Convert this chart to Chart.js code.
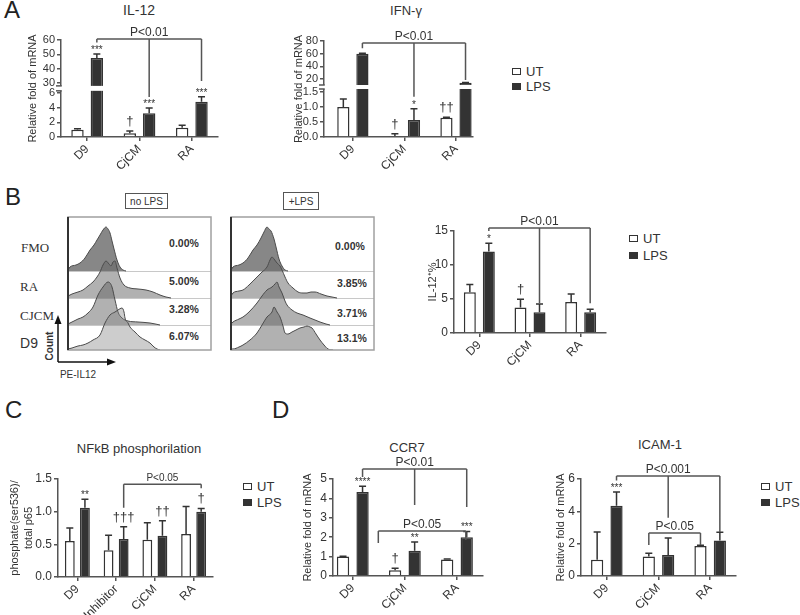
<!DOCTYPE html>
<html>
<head>
<meta charset="utf-8">
<script src="https://cdn.jsdelivr.net/npm/chart.js@4.4.1/dist/chart.umd.min.js"></script>
<style>
body { margin: 0; background: #fff; }
#fig { position: relative; width: 800px; height: 615px; overflow: hidden; font-family: "Liberation Sans", Arial, sans-serif; color: #333; }
#fig canvas, #fig svg { position: absolute; }
.t { position: absolute; transform: translate(-50%, -50%); white-space: nowrap; line-height: 1; }
.letter { position: absolute; font-size: 24px; line-height: 1; color: #222; }
.leg { position: absolute; font-size: 13px; white-space: nowrap; }
.leg span { display: inline-block; width: 7px; height: 5px; border: 1.5px solid #333; margin-right: 5px; vertical-align: middle; position: relative; top: -1px; }
.leg span.d { background: #333; }
.serif { font-family: "Liberation Serif", "Times New Roman", serif; font-size: 13px; }
.pct { font-size: 10.5px; font-weight: bold; color: #333; }
.tag { position: absolute; border: 1px solid #555; font-size: 10px; display: flex; align-items: center; justify-content: center; }
</style>
</head>
<body>
<div id="fig">
  <div class="letter" style="left:4px;top:-2px">A</div>
  <div class="letter" style="left:5px;top:185px">B</div>
  <div class="letter" style="left:5px;top:398px">C</div>
  <div class="letter" style="left:272px;top:398px">D</div>

  <div class="t" style="left:139px;top:10px;font-size:14px">IL-12</div>
  <div class="t" style="left:406px;top:10px;font-size:13px">IFN-γ</div>
  <div class="t" style="left:139px;top:448px;font-size:13px">NFkB phosphorilation</div>
  <div class="t" style="left:407px;top:447px;font-size:13px">CCR7</div>
  <div class="t" style="left:660px;top:444px;font-size:13px">ICAM-1</div>

  <div class="leg" style="left:512px;top:64px;line-height:15px"><div><span></span>UT</div><div><span class="d"></span>LPS</div></div>
  <div class="leg" style="left:629px;top:230px;line-height:17px"><div><span></span>UT</div><div><span class="d"></span>LPS</div></div>
  <div class="leg" style="left:243px;top:479px;line-height:16px"><div><span></span>UT</div><div><span class="d"></span>LPS</div></div>
  <div class="leg" style="left:761px;top:479px;line-height:16px"><div><span></span>UT</div><div><span class="d"></span>LPS</div></div>

  <div class="tag" style="left:125px;top:193px;width:41px;height:14px">no LPS</div>
  <div class="tag" style="left:283px;top:192px;width:34px;height:16px">+LPS</div>
  <div class="t serif" style="left:35px;top:247px">FMO</div>
  <div class="t serif" style="left:29px;top:286px">RA</div>
  <div class="t serif" style="left:37px;top:315px">CJCM</div>
  <div class="t" style="left:29px;top:343px;font-size:14px">D9</div>
  <div class="t pct" style="left:184px;top:243px">0.00%</div>
  <div class="t pct" style="left:184px;top:281px">5.00%</div>
  <div class="t pct" style="left:184px;top:309px">3.28%</div>
  <div class="t pct" style="left:184px;top:336px">6.07%</div>
  <div class="t pct" style="left:350px;top:246px">0.00%</div>
  <div class="t pct" style="left:352px;top:283px">3.85%</div>
  <div class="t pct" style="left:352px;top:313px">3.71%</div>
  <div class="t pct" style="left:352px;top:338px">13.1%</div>
  <div class="t" style="left:50px;top:346px;font-size:10px;font-weight:bold;transform:translate(-50%,-50%) rotate(-90deg)">Count</div>
  <div class="t" style="left:78px;top:375px;font-size:10px">PE-IL12</div>
  <svg style="left:0;top:300px" width="130" height="70">
    <line x1="58" y1="62" x2="58" y2="22" stroke="#111" stroke-width="1.5"/>
    <polygon points="58,15 54.5,24 61.5,24" fill="#111"/>
    <line x1="58" y1="62" x2="108" y2="62" stroke="#111" stroke-width="1.5"/>
    <polygon points="116,62 107,58.5 107,65.5" fill="#111"/>
  </svg>

  <canvas id="il12"></canvas>
  <canvas id="ifng"></canvas>
  <canvas id="flowNoLps"></canvas>
  <canvas id="flowLps"></canvas>
  <canvas id="il12pct"></canvas>
  <canvas id="nfkb"></canvas>
  <canvas id="ccr7"></canvas>
  <canvas id="icam"></canvas>
</div>

<script>
// ---- data ----
const groups = ["D9", "CjCM", "RA"];
const nfkbGroups = ["D9", "Inhibitor", "CjCM", "RA"];

const il12Ticks = [0, 2, 4, 6, 30, 40, 50, 60];
const il12Ut = [1.0, 0.5, 1.25], il12UtErr = [0.12, 0.33, 0.35];
const il12Lps = [47.5, 3.25, 4.8], il12LpsErr = [2.7, 0.7, 0.7];

const ifnTicks = [0, 0.5, 1, 1.5, 20, 40, 60, 80];
const ifnUt = [1.0, 0.03, 0.64], ifnUtErr = [0.27, 0.08, 0.02];
const ifnLps = [60, 0.57, 14], ifnLpsErr = [0.6, 0.37, 0.6];

const pctUt = [6.0, 3.75, 4.55], pctUtErr = [1.15, 1.2, 1.2];
const pctLps = [12.0, 3.05, 3.05], pctLpsErr = [1.2, 1.2, 0.45];

const nfkbUt = [0.55, 0.41, 0.57, 0.66], nfkbUtErr = [0.2, 0.23, 0.26, 0.42];
const nfkbLps = [1.06, 0.58, 0.63, 1.0], nfkbLpsErr = [0.13, 0.19, 0.23, 0.05];

const ccr7Ut = [1.0, 0.3, 0.85], ccr7UtErr = [0.02, 0.1, 0.03];
const ccr7Lps = [4.33, 1.3, 2.0], ccr7LpsErr = [0.3, 0.45, 0.3];

const icamUt = [1.0, 1.2, 1.85], icamUtErr = [1.72, 0.2, 0.05];
const icamLps = [4.35, 1.3, 2.2], icamLpsErr = [0.85, 1.05, 0.5];

// flow histograms: [PE-IL12 position, count height]
const fmoNoLps = [[0,1],[2,4],[8,6],[12,8],[17,13],[22,21],[26,26],[29,31],[32,36],[35,41],[38,44],[40,42],[42,38],[44,30],[46,22],[49,11],[52,4],[55,1],[58,0]];
const raNoLps = [[0,2],[4,4],[10,6],[15,8],[20,12],[25,16],[29,21],[32,26],[35,33],[38,37],[41,34],[43,32],[45,36],[47,37],[49,30],[52,20],[56,13],[62,10],[70,9],[78,8],[85,6],[92,3],[98,1],[103,0]];
const cjcmNoLps = [[0,1],[4,3],[10,6],[15,8],[20,12],[25,18],[30,30],[35,38],[40,43],[42,42],[44,38],[47,25],[50,13],[54,7],[60,4],[70,3],[82,2],[92,0]];
const d9NoLps = [[0,1],[4,2],[10,4],[15,5],[20,7],[25,10],[32,15],[37,27],[42,35],[47,38],[50,40],[54,42],[56,38],[57,32],[60,27],[62,23],[67,18],[72,13],[77,10],[82,7],[86,3],[89,1],[92,0]];
const fmoLps = [[0,1],[2,4],[8,6],[12,8],[17,13],[22,21],[26,26],[30,33],[33,39],[36,44],[38,42],[40,40],[43,32],[45,24],[48,12],[51,5],[54,1],[57,0]];
const raLps = [[0,2],[2,5],[8,7],[12,8],[18,13],[26,21],[31,26],[36,31],[39,38],[41,41],[43,39],[46,35],[49,32],[51,28],[54,21],[57,15],[62,10],[67,6],[72,5],[76,5],[80,6],[84,6],[90,4],[96,2],[101,1],[106,0]];
const cjcmLps = [[0,1],[2,3],[8,6],[12,8],[18,13],[26,22],[31,29],[36,35],[41,38],[44,41],[46,43],[48,38],[51,32],[54,24],[56,20],[61,15],[66,12],[72,10],[79,7],[84,5],[89,3],[95,1],[99,0]];
const d9Lps = [[0,1],[2,1],[8,3],[12,5],[19,10],[26,17],[31,25],[36,33],[41,38],[43,43],[46,38],[49,33],[52,24],[54,17],[57,16],[61,18],[65,20],[69,22],[73,23],[76,24],[79,23],[81,22],[85,16],[89,10],[93,5],[97,1],[102,0]];

// ---- chart setup ----
const AXIS = "#555", BAR = "#333";
Chart.defaults.font.family = '"Liberation Sans", Arial, sans-serif';
Chart.defaults.color = "#333";
Chart.defaults.animation = false;

// y axis with a gap between two linear pieces
class BrokenLinear extends Chart.LinearScale {
	buildTicks() {
		return this.options.tickValues.map(value => ({ value }));
	}
	toDecimal(v) {
		const { lo, hi, split } = this.options.segments;
		if (v <= lo[1]) return (v - lo[0]) / (lo[1] - lo[0]) * split[0];
		if (v >= hi[0]) return split[1] + (v - hi[0]) / (hi[1] - hi[0]) * (1 - split[1]);
		return split[0] + (v - lo[1]) / (hi[0] - lo[1]) * (split[1] - split[0]);
	}
	getPixelForValue(v) {
		return v == null ? NaN : this.getPixelForDecimal(this.toDecimal(v));
	}
	getValueForPixel(px) {
		const d = this.getDecimalForPixel(px);
		const { lo, hi, split } = this.options.segments;
		if (d <= split[0]) return lo[0] + d / split[0] * (lo[1] - lo[0]);
		if (d >= split[1]) return hi[0] + (d - split[1]) / (1 - split[1]) * (hi[1] - hi[0]);
		return lo[1] + (d - split[0]) / (split[1] - split[0]) * (hi[0] - lo[1]);
	}
}
BrokenLinear.id = "brokenLinear";
BrokenLinear.defaults = {};

// category axis with extra room before / after the groups
class PaddedCategory extends Chart.CategoryScale {
	buildTicks() {
		const ticks = super.buildTicks();
		const a = this.options.padStart || 0, b = this.options.padEnd || 0;
		this._startValue -= a;
		this._valueRange += a + b;
		return ticks;
	}
}
PaddedCategory.id = "paddedCategory";
PaddedCategory.defaults = {};
Chart.register(BrokenLinear, PaddedCategory);

function extras(d) {
	return {
		id: "extras",
		afterDatasetsDraw(chart) {
			const { ctx, chartArea: a, scales: { x, y } } = chart;
			ctx.save();
			ctx.strokeStyle = AXIS;
			ctx.lineWidth = 1.5;
			if (d.gap) {
				const y0 = y.getPixelForValue(d.gap[0]), y1 = y.getPixelForValue(d.gap[1]);
				ctx.fillStyle = "#fff";
				ctx.fillRect(a.left - 2, y1, a.right - a.left + 2, y0 - y1);
				[y0, y1].forEach(py => {
					ctx.beginPath(); ctx.moveTo(a.left - 5, py); ctx.lineTo(a.left + 0.75, py); ctx.stroke();
				});
			}
			ctx.strokeStyle = BAR;
			ctx.fillStyle = "#333";
			ctx.textAlign = "center";
			[[d.ut, d.utErr, d.utMarks], [d.lps, d.lpsErr, d.lpsMarks]].forEach(([vals, errs, marks], ds) => {
				chart.getDatasetMeta(ds).data.forEach((bar, i) => {
					const yt = y.getPixelForValue(vals[i] + errs[i]);
					ctx.beginPath();
					ctx.moveTo(bar.x, bar.y); ctx.lineTo(bar.x, yt);
					ctx.moveTo(bar.x - 3.5, yt); ctx.lineTo(bar.x + 3.5, yt);
					ctx.stroke();
					const m = marks && marks[i];
					if (m) {
						const dagger = m.includes("†");
						ctx.font = (dagger ? 13 : 10) + "px " + Chart.defaults.font.family;
						ctx.textBaseline = "alphabetic";
						ctx.fillText(m, bar.x, yt - (dagger ? 6 : 1));
					}
				});
			});
			ctx.strokeStyle = AXIS;
			(d.brackets || []).forEach(b => {
				const yy = y.getPixelForValue(b.at);
				const xs = b.ends.map(e => Array.isArray(e[0]) ? chart.getDatasetMeta(e[0][1]).data[e[0][0]].x : x.getPixelForValue(e[0]));
				const x0 = Math.min(...xs), x1 = Math.max(...xs);
				ctx.beginPath();
				ctx.moveTo(x0, yy); ctx.lineTo(x1, yy);
				b.ends.forEach((e, k) => { ctx.moveTo(xs[k], yy); ctx.lineTo(xs[k], y.getPixelForValue(e[1])); });
				ctx.stroke();
				ctx.font = (b.size || 12) + "px " + Chart.defaults.font.family;
				ctx.textBaseline = "alphabetic";
				ctx.fillText(b.label, (x0 + x1) / 2, yy - 3);
			});
			ctx.restore();
		}
	};
}

function barChart(id, geo, d) {
	const [L, T, R, B] = geo.area;
	const lh = geo.titleLH || 13.2;
	const left = Math.round(geo.titleX - lh / 2);
	const top = T - geo.topPad;
	const el = document.getElementById(id);
	el.width = R + geo.rightPad - left;
	el.height = B + geo.bottomH - top;
	el.style.left = left + "px";
	el.style.top = top + "px";

	const y = {
		type: d.yType || "linear",
		min: d.min, max: d.max,
		tickValues: d.tickValues, segments: d.segments,
		border: { color: AXIS, width: 1.5 },
		grid: { drawOnChartArea: false, tickLength: 4, color: AXIS, lineWidth: 1.5 },
		ticks: { font: { size: geo.tickSize || 12 }, padding: 2, autoSkip: false, stepSize: d.step, callback: d.fmt || (v => v) },
		title: { display: true, text: d.yTitle, padding: 0, font: { size: 11, lineHeight: lh / 11 } },
		afterFit: s => { s.width = L - left; },
	};
	new Chart(el, {
		type: "bar",
		data: {
			labels: d.labels,
			datasets: [
				{ label: "UT", data: d.ut, backgroundColor: "#fff", borderColor: BAR, borderWidth: 1.5, categoryPercentage: geo.cp, barPercentage: geo.bp },
				{ label: "LPS", data: d.lps, backgroundColor: BAR, borderColor: BAR, borderWidth: 1.5, categoryPercentage: geo.cp, barPercentage: geo.bp },
			],
		},
		options: {
			responsive: false,
			layout: { padding: { left: 0, top: geo.topPad, right: geo.rightPad, bottom: 0 } },
			plugins: { legend: { display: false }, tooltip: { enabled: false } },
			scales: {
				x: {
					type: "paddedCategory", padStart: geo.padStart || 0, padEnd: geo.padEnd || 0,
					border: { color: AXIS, width: 1.5 },
					grid: { drawOnChartArea: false, offset: false, tickLength: 4, color: AXIS, lineWidth: 1.5 },
					ticks: { font: { size: 12 }, minRotation: 45, maxRotation: 45, autoSkip: false, padding: 1 },
					afterFit: s => { s.height = geo.bottomH; },
				},
				y,
			},
		},
		plugins: [extras(d)],
	});
}

// Panel A
barChart("il12", { area: [61, 40, 218, 137], titleX: 33, topPad: 30, bottomH: 38, rightPad: 6, cp: 0.74, bp: 0.64, tickSize: 11 }, {
	labels: groups, yTitle: "Relative fold of mRNA",
	ut: il12Ut, utErr: il12UtErr, lps: il12Lps, lpsErr: il12LpsErr,
	utMarks: ["", "†", ""], lpsMarks: ["***", "***", "***"],
	yType: "brokenLinear", min: 0, max: 60, tickValues: il12Ticks,
	segments: { lo: [0, 6.3], hi: [28, 60], split: [0.476, 0.527] }, gap: [6.3, 28],
	brackets: [{ at: 60.7, label: "P<0.01", ends: [[[0, 1], 58.2], [[1, 1], 5.45], [[2, 1], 31.4]] }],
});

barChart("ifng", { area: [324, 41, 473, 137], titleX: 299, topPad: 31, bottomH: 38, rightPad: 8, cp: 0.74, bp: 0.64, padStart: 0.06, padEnd: -0.17, tickSize: 11 }, {
	labels: groups, yTitle: "Relative fold of mRNA",
	ut: ifnUt, utErr: ifnUtErr, lps: ifnLps, lpsErr: ifnLpsErr,
	utMarks: ["", "†", "††"], lpsMarks: ["", "*", ""],
	yType: "brokenLinear", min: 0, max: 80, tickValues: ifnTicks,
	fmt: v => (v < 2 ? v.toFixed(1) : String(v)),
	segments: { lo: [0, 1.6], hi: [10.5, 80], split: [0.5, 0.5417] }, gap: [1.6, 10.5],
	brackets: [{ at: 77, label: "P<0.01", ends: [[[0, 1], 68.5], [[1, 1], 1.34], [[2, 1], 18.4]] }],
});

// Panel B bar chart
barChart("il12pct", { area: [454, 231, 606, 333], titleX: 433, topPad: 25, bottomH: 38, rightPad: 6, cp: 0.75, bp: 0.63 }, {
	labels: groups, yTitle: "IL-12⁺%",
	ut: pctUt, utErr: pctUtErr, lps: pctLps, lpsErr: pctLpsErr,
	utMarks: ["", "†", ""], lpsMarks: ["*", "", ""],
	min: 0, max: 15, step: 5,
	brackets: [{ at: 15.44, label: "P<0.01", ends: [[[0, 1], 15.0], [[1, 1], 4.4], [[2, 1], 4.37]] }],
});

// Panel C
barChart("nfkb", { area: [58, 479, 213, 577], titleX: 15, titleLH: 14, topPad: 30, bottomH: 40, rightPad: 6, cp: 0.78, bp: 0.65 }, {
	labels: nfkbGroups, yTitle: ["phosphate(ser536)/", "total p65"],
	ut: nfkbUt, utErr: nfkbUtErr, lps: nfkbLps, lpsErr: nfkbLpsErr,
	utMarks: ["", "", "", ""], lpsMarks: ["**", "†††", "††", "†"],
	min: 0, max: 1.5, step: 0.5, fmt: v => v.toFixed(1),
	brackets: [{ at: 1.42, label: "P<0.05", size: 10, ends: [[[1, 1], 1.06], [[3, 1], 1.36]] }],
});

// Panel D
barChart("ccr7", { area: [333, 479, 483, 576], titleX: 308, topPad: 30, bottomH: 40, rightPad: 6, cp: 0.75, bp: 0.63, padStart: -0.12, padEnd: 0 }, {
	labels: groups, yTitle: "Relative fold of mRNA",
	ut: ccr7Ut, utErr: ccr7UtErr, lps: ccr7Lps, lpsErr: ccr7LpsErr,
	utMarks: ["", "†", ""], lpsMarks: ["****", "**", "***"],
	min: 0, max: 5, step: 1,
	brackets: [
		{ at: 5.52, label: "P<0.01", ends: [[[0, 1], 5.1], [[1, 1], 3.66], [[2, 1], 3.56]] },
		{ at: 2.32, label: "P<0.05", ends: [[0.49, 1.7], [2.17, 1.86]] },
	],
});

barChart("icam", { area: [581, 479, 736, 576], titleX: 561, topPad: 30, bottomH: 40, rightPad: 6, cp: 0.75, bp: 0.63 }, {
	labels: groups, yTitle: "Relative fold of mRNA",
	ut: icamUt, utErr: icamUtErr, lps: icamLps, lpsErr: icamLpsErr,
	utMarks: ["", "", ""], lpsMarks: ["***", "", ""],
	min: 0, max: 6, step: 2,
	brackets: [
		{ at: 6.19, label: "P<0.001", ends: [[[0, 1], 5.9], [[1, 1], 3.6], [[2, 1], 2.72]] },
		{ at: 2.66, label: "P<0.05", ends: [[[1, 0], 1.92], [[2, 0], 1.92]] },
	],
});

// Panel B flow histograms (offset overlay)
const rowBase = [79, 52, 25, 0];
const flowFrame = {
	id: "flowFrame",
	beforeDatasetsDraw(chart) {
		const { ctx, chartArea: a, scales: { y } } = chart;
		ctx.save();
		ctx.strokeStyle = "#c8c8c8";
		ctx.lineWidth = 1;
		rowBase.slice(0, 3).forEach(b => {
			const py = Math.round(y.getPixelForValue(b)) + 0.5;
			ctx.beginPath(); ctx.moveTo(a.left, py); ctx.lineTo(a.right, py); ctx.stroke();
		});
		ctx.restore();
	},
	afterDatasetsDraw(chart) {
		const { ctx, chartArea: a } = chart;
		ctx.save();
		ctx.strokeStyle = "#a0a0a0";
		ctx.lineWidth = 1.5;
		ctx.strokeRect(a.left, a.top, a.right - a.left, a.bottom - a.top);
		ctx.strokeStyle = "#333";
		ctx.lineWidth = 2;
		ctx.beginPath(); ctx.moveTo(a.left, a.top); ctx.lineTo(a.left, a.bottom); ctx.stroke();
		ctx.restore();
	},
};

function flowChart(id, left, sets, fills) {
	const el = document.getElementById(id);
	el.width = 147;
	el.height = 137;
	el.style.left = left + "px";
	el.style.top = "215px";
	new Chart(el, {
		type: "line",
		data: {
			datasets: sets.map((s, k) => ({
				data: s.map(([x, h]) => ({ x, y: rowBase[k] + h })),
				fill: { value: rowBase[k] },
				backgroundColor: fills[k],
				borderColor: "#4a4a4a",
				borderWidth: 1,
				pointRadius: 0,
				cubicInterpolationMode: "monotone",
				order: 3 - k,
			})),
		},
		options: {
			responsive: false,
			layout: { padding: 2 },
			plugins: { legend: { display: false }, tooltip: { enabled: false } },
			scales: {
				x: { type: "linear", display: false, min: 0, max: 143 },
				y: { display: false, min: 0, max: 133 },
			},
		},
		plugins: [flowFrame],
	});
}

flowChart("flowNoLps", 66, [fmoNoLps, raNoLps, cjcmNoLps, d9NoLps],
	["rgba(70,70,70,0.65)", "rgba(100,100,100,0.5)", "rgba(100,100,100,0.5)", "rgba(130,130,130,0.4)"]);
flowChart("flowLps", 229, [fmoLps, raLps, cjcmLps, d9Lps],
	["rgba(70,70,70,0.65)", "rgba(100,100,100,0.5)", "rgba(100,100,100,0.5)", "rgba(100,100,100,0.5)"]);
</script>
</body>
</html>
